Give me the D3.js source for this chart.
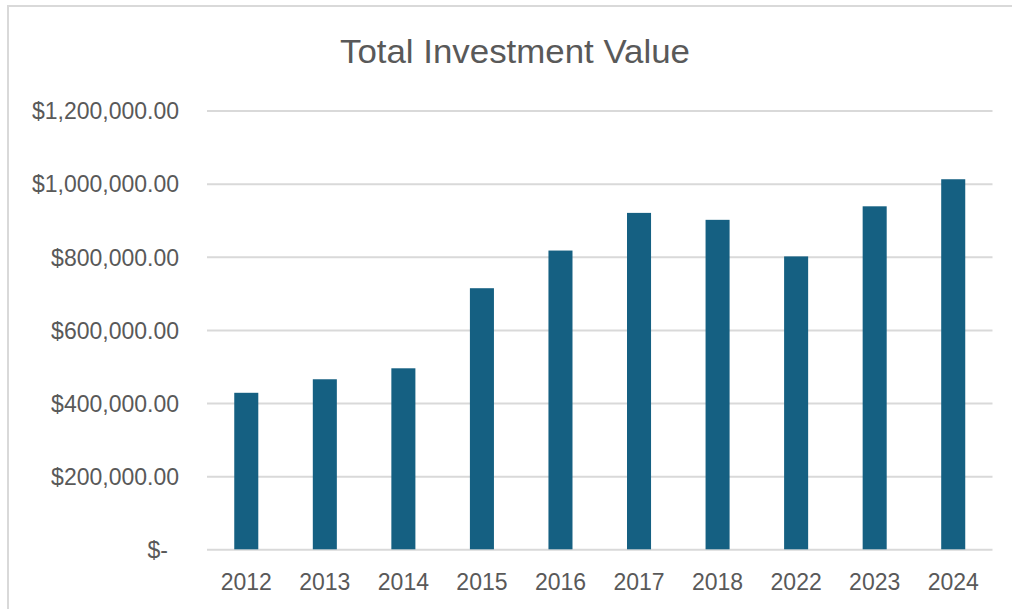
<!DOCTYPE html>
<html>
<head>
<meta charset="utf-8">
<script src="https://cdn.jsdelivr.net/npm/d3@7"></script>
<style>
  html, body { margin: 0; padding: 0; background: #fff; }
  svg { display: block; }
</style>
</head>
<body>
<svg id="chart" width="1012" height="609"></svg>
<script>
const title = "Total Investment Value";
const categories = ["2012", "2013", "2014", "2015", "2016", "2017", "2018", "2022", "2023", "2024"];
const values = [428000, 465000, 495000, 714000, 817000, 920000, 901000, 801000, 938000, 1012000];
const yTicks = [0, 200000, 400000, 600000, 800000, 1000000, 1200000];

(function () {
const svg = d3.select("#chart");
const W = 1012, H = 609;
const plotLeft = 207, plotRight = 992.5, plotTop = 110.5, plotBottom = 549.3;

// chart border
svg.append("rect")
  .attr("x", 8).attr("y", 6)
  .attr("width", W + 20).attr("height", H + 20)
  .attr("fill", "#fff").attr("stroke", "#d9d9d9").attr("stroke-width", 2);

const x = d3.scaleBand().domain(categories).range([plotLeft, plotRight]).paddingInner(0.694).paddingOuter(0.347);
const y = d3.scaleLinear().domain([0, 1200000]).range([plotBottom, plotTop]);

const fmt = v => v === 0 ? "$-" : "$" + d3.format(",.2f")(v);

const yAxis = d3.axisLeft(y).tickValues(yTicks).tickSize(-(plotRight - plotLeft)).tickFormat(fmt).tickPadding(28);
const gy = svg.append("g").attr("transform", `translate(${plotLeft},0)`).call(yAxis);
gy.select(".domain").remove();
gy.selectAll(".tick line").attr("stroke", "#d9d9d9").attr("stroke-width", 2);
gy.selectAll(".tick text")
  .attr("fill", "#595959")
  .attr("font-family", "Liberation Sans, Arial, sans-serif")
  .attr("font-size", 23)
  .attr("dy", "0.36em")
  .attr("dx", d => d === 0 ? -11 : 0);

svg.append("g").selectAll("rect").data(values).join("rect")
  .attr("x", (d, i) => x(categories[i]))
  .attr("width", x.bandwidth())
  .attr("y", d => y(d))
  .attr("height", d => y(0) - y(d))
  .attr("fill", "#156082");

const xAxis = d3.axisBottom(x).tickSize(0).tickPadding(24);
const gx = svg.append("g").attr("transform", `translate(0,${plotBottom})`).call(xAxis);
gx.select(".domain").remove();
gx.selectAll(".tick text")
  .attr("fill", "#595959")
  .attr("font-family", "Liberation Sans, Arial, sans-serif")
  .attr("font-size", 23);

svg.append("text")
  .attr("x", 515).attr("y", 63)
  .attr("text-anchor", "middle")
  .attr("fill", "#595959")
  .attr("font-family", "Liberation Sans, Arial, sans-serif")
  .attr("font-size", 34)
  .attr("textLength", 350)
  .attr("lengthAdjust", "spacingAndGlyphs")
  .text(title);
})();
</script>
</body>
</html>
